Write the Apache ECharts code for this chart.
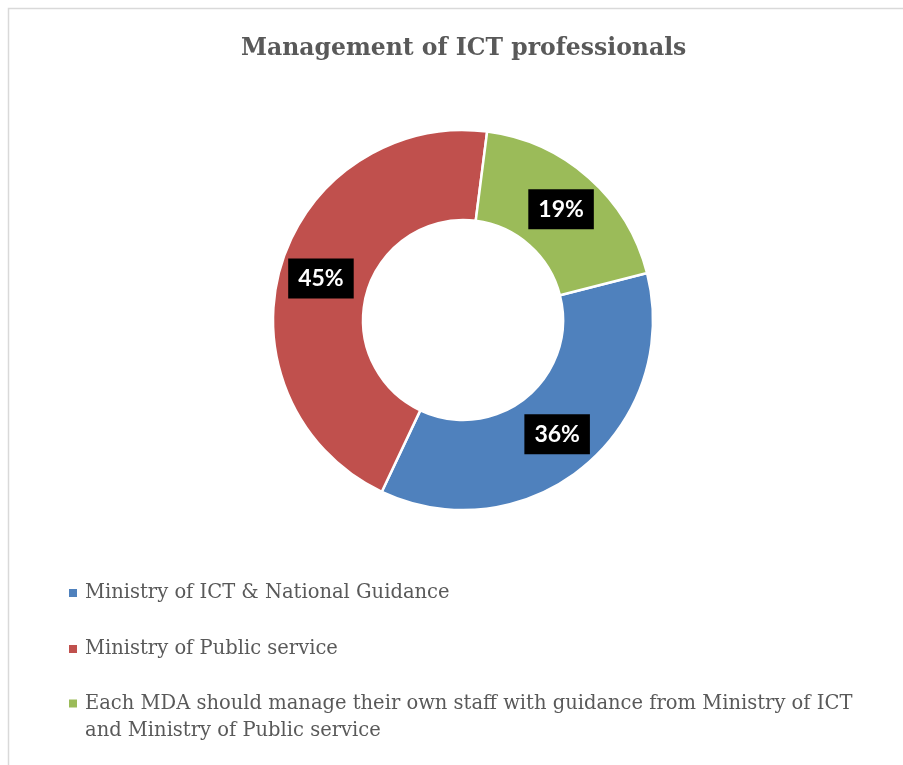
<!DOCTYPE html>
<html>
<head>
<meta charset="utf-8">
<script src="https://cdn.jsdelivr.net/npm/echarts@6/dist/echarts.min.js"></script>
<style>
  html, body { margin: 0; padding: 0; background: #fff; }
  #chart { width: 903px; height: 765px; }
</style>
</head>
<body>
<div id="chart"></div>
<script>
// Survey answers: who should manage ICT professionals
const categories = [
  'Ministry of ICT & National Guidance',
  'Ministry of Public service',
  'Each MDA should manage their own staff with guidance from Ministry of ICT and Ministry of Public service'
];
const shares = [36, 45, 19];
const sliceColors = ['#4F81BD', '#C0504D', '#9BBB59'];

// Legend markers: a 10px square inside a 37px tall box, so the square can sit
// beside the first text line (tiny corner dots keep the box height fixed).
const dots = 'M0,0h0.01v0.01h-0.01z M9.99,36.99h0.01v0.01h-0.01z ';
const markerMiddle = 'path://' + dots + 'M0,13.5h10v10h-10z';
const markerTop = 'path://' + dots + 'M0,0h10v10h-10z';

const chart = echarts.init(document.getElementById('chart'));

chart.setOption({
  animation: false,
  color: sliceColors,
  title: {
    text: 'Management of ICT professionals',
    left: 236,
    top: 32,
    textStyle: {
      fontFamily: 'DejaVu Serif',
      fontWeight: 'bold',
      fontSize: 23.5,
      color: '#595959'
    }
  },
  graphic: [{
    type: 'rect',
    shape: { x: 8.5, y: 8.5, width: 1000, height: 1000 },
    style: { fill: 'none', stroke: '#d9d9d9', lineWidth: 1.5 },
    silent: true
  }],
  legend: {
    orient: 'vertical',
    left: 67,
    top: 573.5,
    height: 400,
    padding: 0,
    itemWidth: 10,
    itemHeight: 37,
    itemGap: 17,
    symbolKeepAspect: false,
    data: [
      { name: categories[0], icon: markerMiddle },
      { name: categories[1], icon: markerMiddle },
      { name: categories[2], icon: markerTop, textStyle: { padding: [9, 0, 0, 2] } }
    ],
    formatter: function (name) {
      return name === categories[2]
        ? 'Each MDA should manage their own staff with guidance from Ministry of ICT\nand Ministry of Public service'
        : name;
    },
    textStyle: {
      fontFamily: 'DejaVu Serif',
      fontSize: 19.5,
      color: '#595959',
      lineHeight: 27,
      padding: [0, 0, 0, 2]
    }
  },
  series: [{
    type: 'pie',
    center: [463, 320],
    radius: [100, 190],
    startAngle: 14.3,
    clockwise: true,
    avoidLabelOverlap: false,
    itemStyle: { borderColor: '#ffffff', borderWidth: 2.5 },
    label: {
      show: true,
      position: 'inside',
      formatter: '{c}%',
      color: '#ffffff',
      fontFamily: 'Lato',
      fontWeight: 'bold',
      fontSize: 23,
      backgroundColor: '#000000',
      padding: [9, 10, 8, 10]
    },
    labelLine: { show: false },
    emphasis: { disabled: true },
    data: categories.map((name, i) => ({ name: name, value: shares[i] }))
  }]
});
</script>
</body>
</html>
